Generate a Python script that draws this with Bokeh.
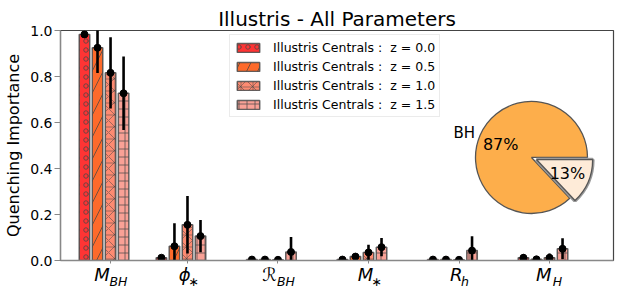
import numpy as np
from bokeh.plotting import figure
from bokeh.models import (Range1d, FixedTicker, Legend, LegendItem, ColumnDataSource,
                          LinearAxis)
from bokeh.core.properties import value
from bokeh.embed import file_html
from bokeh.resources import INLINE

# ---------------- data ----------------
params = ["M_BH", "phi_star", "R_BH", "M_star", "R_h", "M_H"]
redshifts = ["0.0", "0.5", "1.0", "1.5"]

imp_z00 = [0.983, 0.012, 0.004, 0.004, 0.004, 0.012]
imp_z05 = [0.925, 0.062, 0.004, 0.017, 0.004, 0.005]
imp_z10 = [0.816, 0.155, 0.003, 0.035, 0.003, 0.012]
imp_z15 = [0.727, 0.106, 0.037, 0.058, 0.043, 0.051]

err_z00 = [0.015, 0.005, 0.003, 0.003, 0.003, 0.016]
err_z05 = [0.110, 0.100, 0.003, 0.013, 0.003, 0.004]
err_z10 = [0.155, 0.125, 0.004, 0.033, 0.008, 0.018]
err_z15 = [0.160, 0.070, 0.065, 0.040, 0.062, 0.046]

# tick label pieces: main symbol + subscript (math-like)
tick_main = ["M", "\u03d5", "\u211b", "M", "R", "M"]
tick_sub = ["BH", "\u2217", "BH", "\u2217", "h", "H"]

pie_labels = ["BH", ""]
pie_values = [87, 13]

# ---------------- layout ----------------
group_pos = [0.15, 1.0, 2.0, 3.0, 4.0, 5.0]
bar_step = 0.144
bar_w = 0.116
colors = ["#ff3434", "#fd6a2b", "#fd8b72", "#f9a196"]
hatches = ["ring", "right_diagonal_line", "criss_cross", "cross"]
hatch_scales = [9, 22, 12, 8]
hatch_alphas = [0.75, 0.75, 0.5, 0.7]
X0, X1 = -0.331, 5.779

p = figure(frame_width=553, frame_height=230, output_backend="svg", toolbar_location=None,
           x_range=Range1d(X0, X1), y_range=Range1d(0, 1.0),
           min_border_left=60, min_border_right=2, min_border_top=30, min_border_bottom=25,
           title="Illustris - All Parameters")
p.title.text_font = "DejaVu Sans"
p.title.text_font_size = "20px"
p.title.text_font_style = "normal"
p.title.text_color = "black"
p.title.align = "center"
p.title.standoff = 0
p.grid.visible = False
p.outline_line_color = "#444444"
p.outline_line_width = 1.2

series = [imp_z00, imp_z05, imp_z10, imp_z15]
errs = [err_z00, err_z05, err_z10, err_z15]
items = []
for k, (vals, ee) in enumerate(zip(series, errs)):
    xs = [g + (k - 1.5) * bar_step for g in group_pos]
    src = ColumnDataSource(dict(x=xs, top=vals,
                                lo=[v - e for v, e in zip(vals, ee)],
                                hi=[v + e for v, e in zip(vals, ee)]))
    r = p.vbar(x="x", top="top", width=bar_w, bottom=0, source=src,
               fill_color=colors[k], line_color="#4a4a4a", line_alpha=0.85, line_width=1.5,
               hatch_pattern=hatches[k], hatch_color="#444444", hatch_alpha=hatch_alphas[k],
               hatch_scale=hatch_scales[k], hatch_weight=1.0)
    items.append(LegendItem(label="Illustris Centrals :  z = " + redshifts[k], renderers=[r]))
    p.segment(x0="x", x1="x", y0="lo", y1="hi", source=src, line_color="black", line_width=2.6)
    p.scatter(x="x", y="top", source=src, size=7, color="black")

legend = Legend(items=items, location=(169, 143), glyph_width=28, glyph_height=11,
                label_height=16, spacing=3, padding=4, label_standoff=11,
                label_text_font="DejaVu Sans", label_text_font_size="12.5px",
                label_text_color="black",
                border_line_color="#d8d8d8", border_line_width=1,
                background_fill_alpha=0.85, margin=0)
p.add_layout(legend)

# ---------------- axes ----------------
ticks = [round(g + 0.5 * bar_step, 4) for g in group_pos]
NB = "\u00a0"
main_pad = [3, 1, 3, 1, 1, 2]   # space reserved (in nbsp) for the subscript
sub_pad = [4, 3, 4, 4, 3, 4]    # space reserved (in nbsp) for the main symbol

p.xaxis.ticker = FixedTicker(ticks=ticks)
p.xaxis.major_label_overrides = {t: m + NB * n for t, m, n in zip(ticks, tick_main, main_pad)}
p.xaxis.major_label_text_font = "DejaVu Sans"
p.xaxis.major_label_text_font_style = "italic"
p.xaxis.major_label_text_font_size = "18px"
p.xaxis.major_label_text_color = "black"
p.xaxis.major_label_standoff = 0
p.xaxis.minor_tick_line_color = None
p.xaxis.major_tick_out = 3
p.xaxis.major_tick_in = 0
p.xaxis.axis_line_color = "#888888"
p.xaxis.axis_line_width = 1.3
p.xaxis.major_tick_line_color = "#888888"

sub_axis = LinearAxis(ticker=FixedTicker(ticks=ticks),
                      major_label_overrides={t: NB * n + s for t, s, n in zip(ticks, tick_sub, sub_pad)},
                      major_label_text_font="DejaVu Sans", major_label_text_font_style="italic",
                      major_label_text_font_size="12.5px", major_label_text_color="black",
                      major_label_standoff=-14,
                      axis_line_color=None, major_tick_line_color=None, minor_tick_line_color=None,
                      major_tick_out=0, major_tick_in=0)
p.add_layout(sub_axis, "below")

p.yaxis.ticker = FixedTicker(ticks=[0, 0.2, 0.4, 0.6, 0.8, 1.0])
p.yaxis.major_label_overrides = {0: "0.0", 0.2: "0.2", 0.4: "0.4", 0.6: "0.6", 0.8: "0.8", 1.0: "1.0"}
p.yaxis.minor_tick_line_color = None
p.yaxis.major_tick_out = 6
p.yaxis.major_tick_in = 0
p.yaxis.major_label_standoff = 2
p.yaxis.major_label_text_font = "DejaVu Sans"
p.yaxis.major_label_text_font_size = "14px"
p.yaxis.major_label_text_color = "black"
p.yaxis.axis_label = "Quenching Importance"
p.yaxis.axis_label_text_font = "DejaVu Sans"
p.yaxis.axis_label_text_font_size = "16px"
p.yaxis.axis_label_text_font_style = "normal"
p.yaxis.axis_label_text_color = "black"
p.yaxis.axis_label_standoff = 4
p.yaxis.axis_line_color = "#888888"
p.yaxis.axis_line_width = 1.3
p.yaxis.major_tick_line_color = "#888888"

# ---------------- inset pie ----------------
px_per_x = 553 / (X1 - X0)
px_per_y = 230.0
pie_cx, pie_cy, pie_r = 4.873, 0.448, 56
fracs = np.array(pie_values, dtype=float) / sum(pie_values)
angles = np.concatenate([[0], np.cumsum(fracs) * 2 * np.pi])
pie_colors = ["#fdae4b", "#feebd8"]
explode = [0.0, 0.1]
for i in range(len(pie_values)):
    a0, a1 = angles[i], angles[i + 1]
    mid = (a0 + a1) / 2
    ox = explode[i] * pie_r * np.cos(mid) / px_per_x
    oy = explode[i] * pie_r * np.sin(mid) / px_per_y
    cx, cy = pie_cx + ox, pie_cy + oy
    if explode[i] > 0:
        p.wedge(x=[cx], y=[cy], radius=pie_r, radius_units="screen", start_angle=a0, end_angle=a1,
                fill_color=None, line_color="#9a9a9a", line_width=4)
    p.wedge(x=[cx], y=[cy], radius=pie_r, radius_units="screen", start_angle=a0, end_angle=a1,
            fill_color=pie_colors[i], line_color="#555555", line_width=1.3)
    tx = cx + 0.6 * pie_r * np.cos(mid) / px_per_x
    ty = cy + 0.6 * pie_r * np.sin(mid) / px_per_y
    p.text(x=[tx], y=[ty], text=["%d%%" % round(fracs[i] * 100)], text_align="center",
           text_baseline="middle", text_font=value("DejaVu Sans"), text_font_size="16px",
           text_color="black")
    if pie_labels[i]:
        lx = cx + 1.1 * pie_r * np.cos(mid) / px_per_x
        ly = cy + 1.1 * pie_r * np.sin(mid) / px_per_y
        p.text(x=[lx], y=[ly], text=[pie_labels[i]],
               text_align="right" if np.cos(mid) < 0 else "left",
               text_baseline="middle", text_font=value("DejaVu Sans"), text_font_size="15px",
               text_color="black")

open("out.html", "w").write(file_html(p, INLINE))
